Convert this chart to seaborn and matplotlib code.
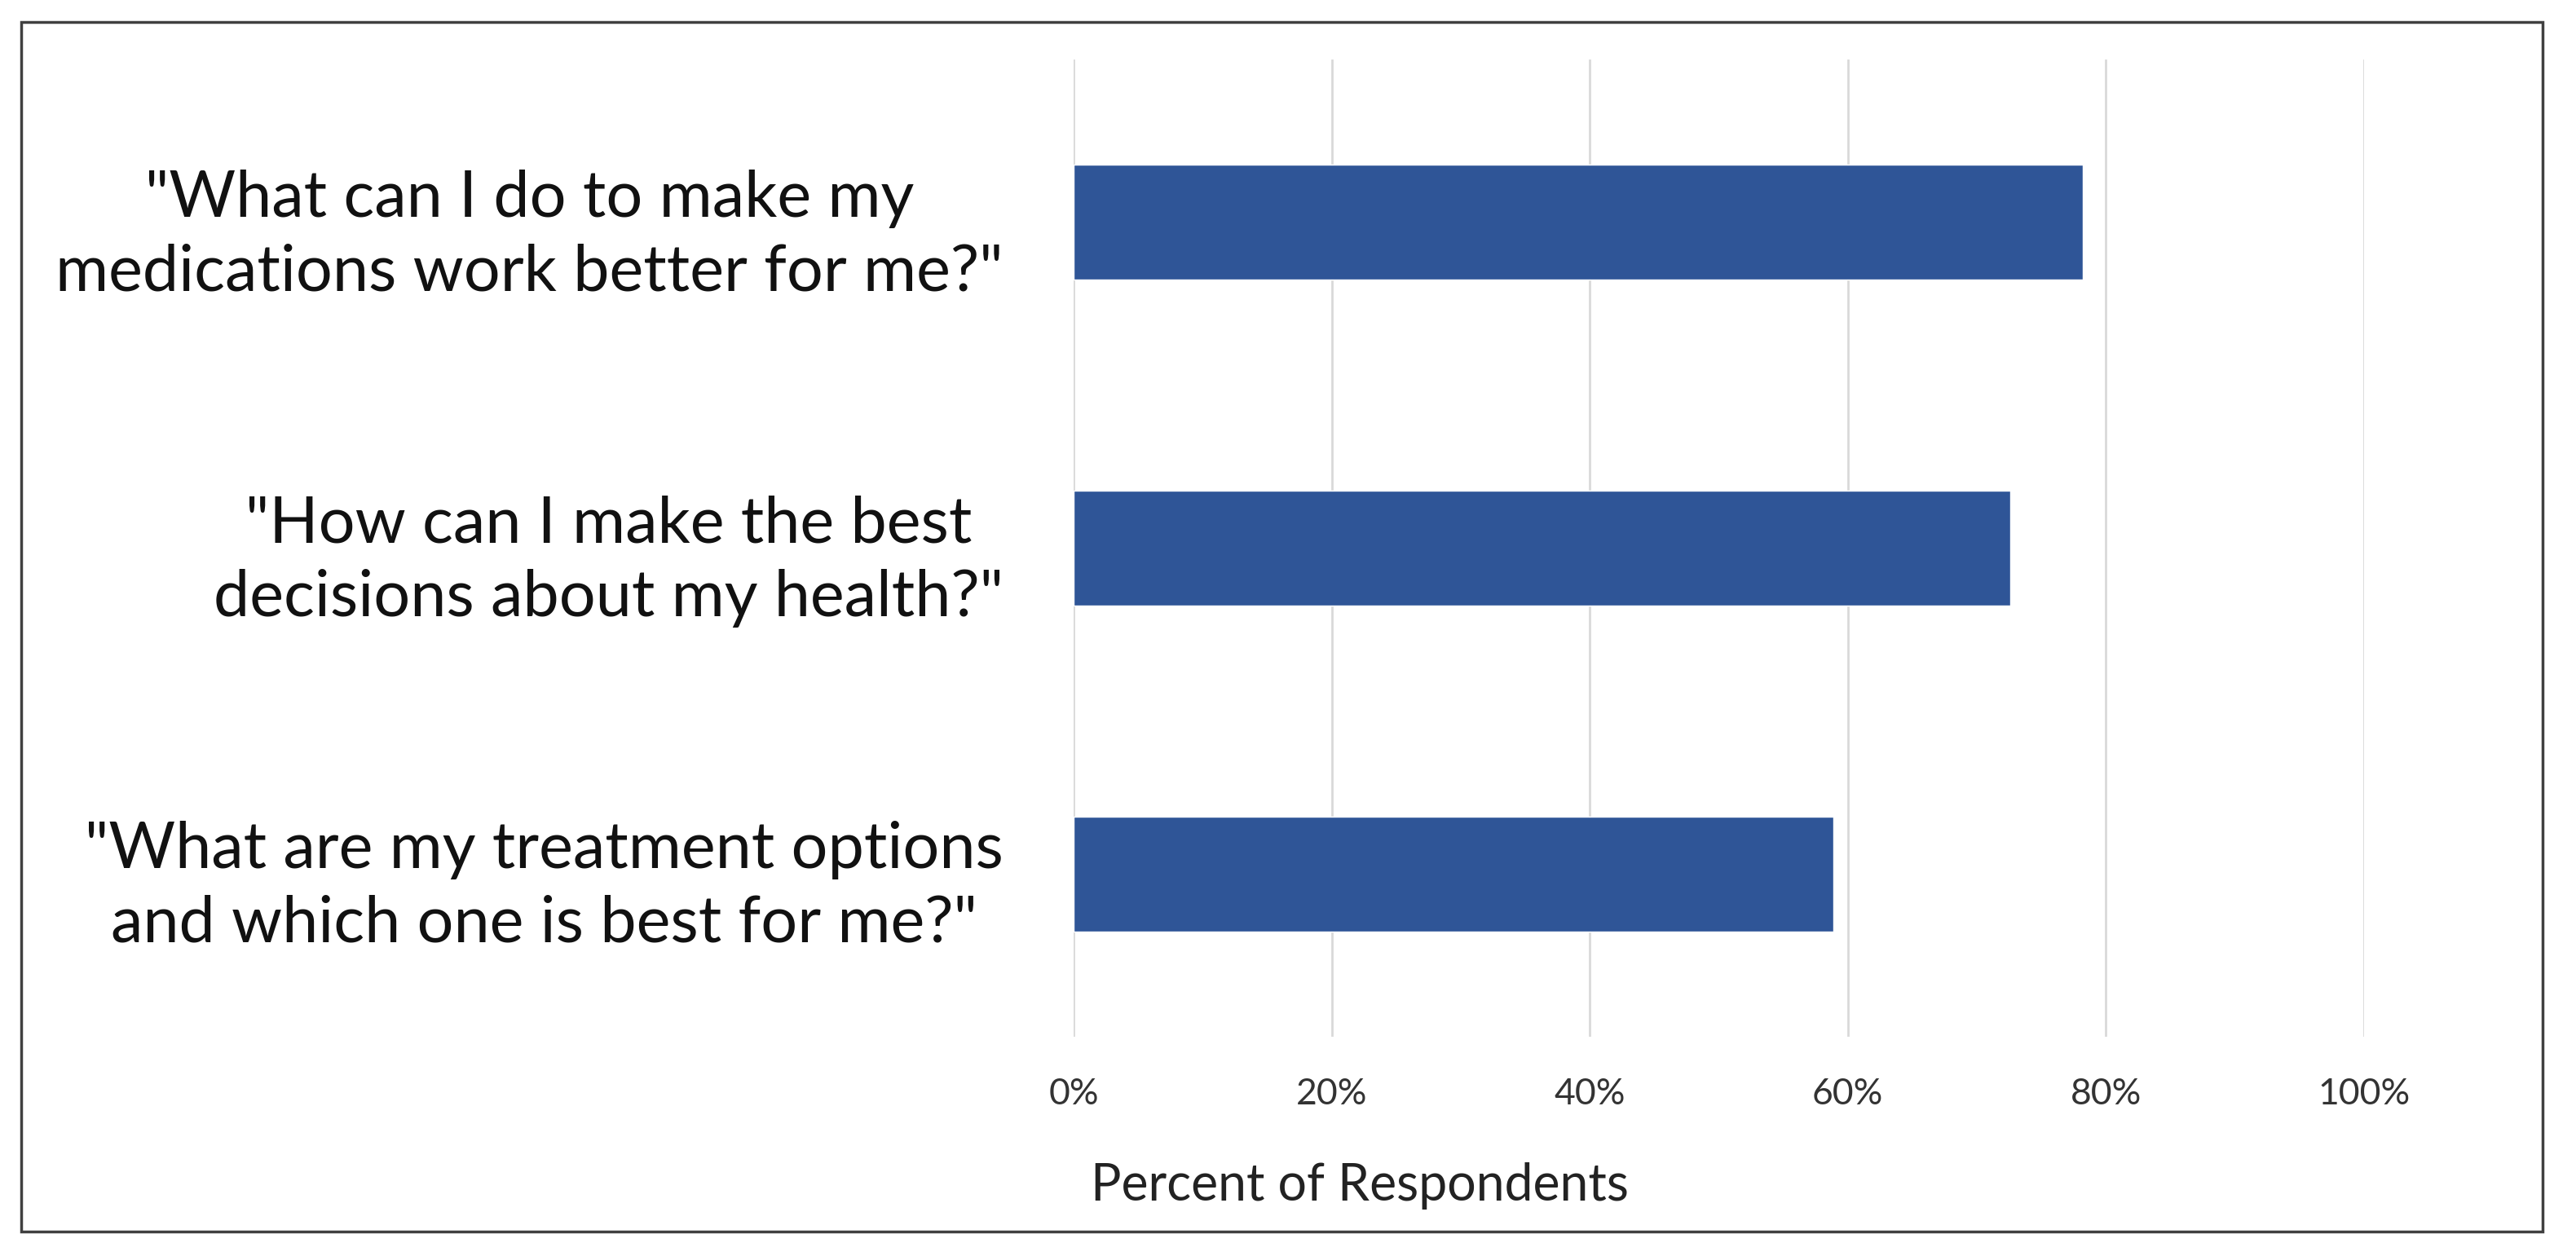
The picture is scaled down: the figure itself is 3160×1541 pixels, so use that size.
import matplotlib
matplotlib.use("Agg")
import matplotlib.pyplot as plt
import matplotlib.patches as mpatches
from matplotlib.ticker import FuncFormatter
import seaborn as sns
import pandas as pd

categories = [
    '"What can I do to make my\nmedications work better for me?"',
    '"How can I make the best\ndecisions about my health?"',
    '"What are my treatment options\nand which one is best for me?"',
]
percent_values = [78.2, 72.6, 58.9]
x_ticks = [0, 20, 40, 60, 80, 100]
x_label = "Percent of Respondents"

sns.set_theme(style="white")
plt.rcParams["font.family"] = ["Lato", "DejaVu Sans"]

W, H, DPI = 3160, 1541, 100
fig = plt.figure(figsize=(W / DPI, H / DPI), dpi=DPI)
fig.patch.set_facecolor("white")

ax = fig.add_axes([1317 / W, 1 - 1272 / H, (2900 - 1317) / W, (1272 - 73) / H])

df = pd.DataFrame({"question": categories, "pct": percent_values})
sns.barplot(data=df, x="pct", y="question", orient="h", color="#2F5597",
            saturation=1, width=0.352, ax=ax, zorder=3)

ax.set_xlim(0, 100)
ax.set_ylim(2.5, -0.5)
ax.set_xticks(x_ticks)
ax.xaxis.set_major_formatter(FuncFormatter(lambda v, p: f"{int(v)}%"))
ax.grid(axis="x", color="#D9D9D9", linewidth=2)
ax.grid(axis="y", visible=False)
ax.set_axisbelow(True)
for s in ax.spines.values():
    s.set_visible(False)
ax.tick_params(axis="both", length=0)
ax.tick_params(axis="x", labelsize=32, pad=36, labelcolor="#333333")
ax.tick_params(axis="y", labelsize=57, pad=62, labelcolor="#111111")
for lbl in ax.get_yticklabels():
    lbl.set_multialignment("center")
    lbl.set_linespacing(1.32)

ax.set_ylabel("")
ax.set_xlabel(x_label, fontsize=45, color="#222222")
ax.xaxis.set_label_coords((1668 - 1317) / (2900 - 1317), (1272 - 1455) / (1272 - 73))
ax.xaxis.label.set_va("center")

rect = mpatches.Rectangle((26 / W, 1 - 1511 / H), (3119 - 26) / W, (1511 - 27) / H,
                          transform=fig.transFigure, fill=False,
                          edgecolor="#404040", linewidth=2.5)
fig.patches.append(rect)

fig.savefig("out.png", dpi=DPI, facecolor="white")
